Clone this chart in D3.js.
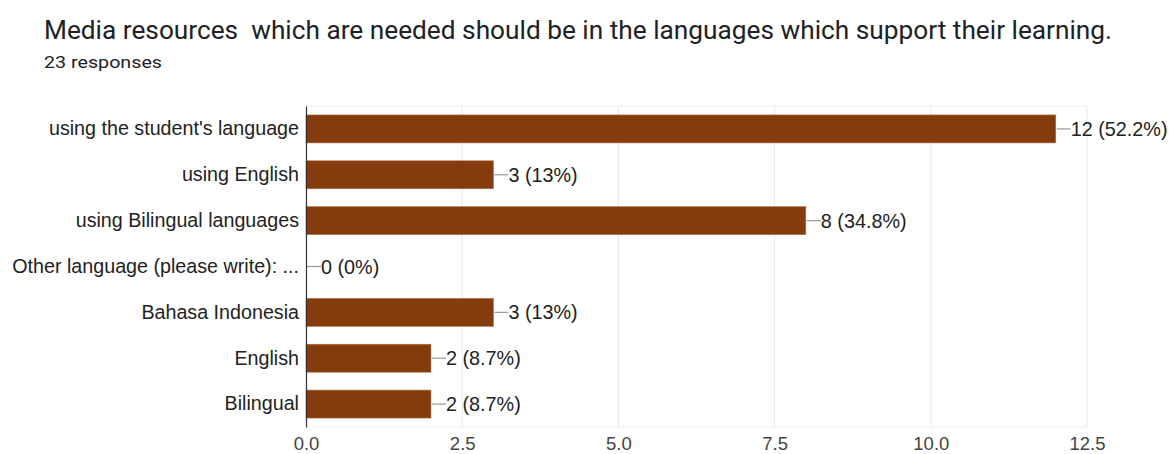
<!DOCTYPE html>
<html><head><meta charset="utf-8">
<script src="https://cdn.jsdelivr.net/npm/d3@7"></script>
<style>body{margin:0;background:#fff;}svg{display:block;}</style>
</head><body>
<script>
const categories = ["using the student's language","using English","using Bilingual languages","Other language (please write): ...","Bahasa Indonesia","English","Bilingual"];
const values = [12,3,8,0,3,2,2];
const labels = ["12 (52.2%)","3 (13%)","8 (34.8%)","0 (0%)","3 (13%)","2 (8.7%)","2 (8.7%)"];
const ticks = [0,2.5,5,7.5,10,12.5];
const title = "Media resources  which are needed should be in the languages which support their learning.";
const subtitle = "23 responses";

const W=1173,H=454;
const svg=d3.select("body").append("svg").attr("width",W).attr("height",H);
const m={left:306,right:1087,top:106,bottom:427};
const x=d3.scaleLinear().domain([0,12.5]).range([m.left,m.right]);
const y=d3.scaleBand().domain(categories).range([m.top,m.bottom]).paddingInner(0.39).paddingOuter(0.195);
const FF="Arial, 'Liberation Sans', sans-serif";

svg.append("text").attr("x",44).attr("y",39).attr("font-family","Roboto, Arial, sans-serif").attr("font-size",25)
 .attr("fill","#202124").style("white-space","pre").attr("textLength",1068).attr("lengthAdjust","spacingAndGlyphs").text(title);
svg.append("text").attr("x",44).attr("y",68).attr("font-family","Roboto, Arial, sans-serif").attr("font-size",16)
 .attr("fill","#202124").attr("textLength",118).attr("lengthAdjust","spacingAndGlyphs").text(subtitle);

// grid
svg.append("g").selectAll("line").data(ticks.slice(1)).join("line")
 .attr("x1",d=>x(d)).attr("x2",d=>x(d)).attr("y1",m.top).attr("y2",m.bottom)
 .attr("stroke","#e8e8e8").attr("stroke-width",1);
svg.append("line").attr("x1",m.left).attr("x2",m.right).attr("y1",m.top).attr("y2",m.top).attr("stroke","#eeeeee");
svg.append("line").attr("x1",m.left).attr("x2",m.right).attr("y1",m.bottom).attr("y2",m.bottom).attr("stroke","#eeeeee");

// x axis labels
const xa=svg.append("g").attr("transform",`translate(0,${m.bottom})`).call(d3.axisBottom(x).tickValues(ticks).tickFormat(d3.format(".1f")).tickSize(0).tickPadding(10));
xa.select(".domain").remove();
xa.selectAll("text").attr("font-family",FF).attr("font-size",18.5).attr("fill","#444");

// bars
svg.append("g").selectAll("rect").data(values).join("rect")
 .attr("x",x(0)).attr("y",(d,i)=>y(categories[i]))
 .attr("width",d=>x(d)-x(0)).attr("height",y.bandwidth())
 .attr("fill","#843c0c").attr("stroke","#b0714a").attr("stroke-width",0.6);

// connectors and value labels
const g=svg.append("g");
values.forEach((d,i)=>{
  const cy=y(categories[i])+y.bandwidth()/2;
  g.append("line").attr("x1",x(d)+1).attr("x2",x(d)+15).attr("y1",cy).attr("y2",cy).attr("stroke","#999").attr("stroke-width",1.2);
  g.append("text").attr("x",x(d)+15).attr("y",cy).attr("dy","0.36em").attr("font-family",FF).attr("font-size",19.8).attr("fill","#222").text(labels[i]);
});

// y axis
const ya=svg.append("g").attr("transform",`translate(${m.left},0)`).call(d3.axisLeft(y).tickSize(0).tickPadding(7));
ya.select(".domain").attr("stroke","#333").attr("stroke-width",1.2);
ya.selectAll("text").attr("font-family",FF).attr("font-size",19.7).attr("fill","#222");
</script>
</body></html>
